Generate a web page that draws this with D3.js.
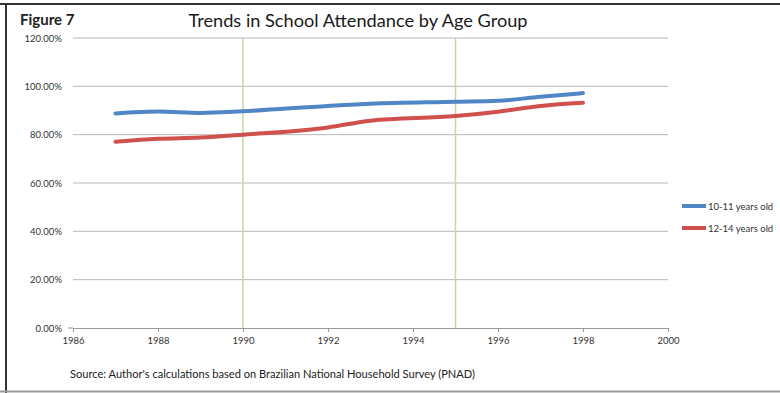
<!DOCTYPE html>
<html>
<head>
<meta charset="utf-8">
<script src="https://cdn.jsdelivr.net/npm/d3@7"></script>
<style>
  html, body { margin: 0; padding: 0; background: #fff; }
  svg { display: block; }
</style>
</head>
<body>
<svg id="chart" width="780" height="393"></svg>
<script>
// School attendance rates (PNAD survey years; no survey in 1991 and 1994)
const years = [1987, 1988, 1989, 1990, 1992, 1993, 1995, 1996, 1997, 1998];
const age10to11 = [0.888, 0.896, 0.890, 0.897, 0.919, 0.928, 0.936, 0.940, 0.957, 0.972];
const age12to14 = [0.771, 0.783, 0.788, 0.800, 0.830, 0.858, 0.877, 0.895, 0.919, 0.932];
const seriesNames = ["10\u201111 years old", "12\u201114 years old"];
const seriesColors = ["#4f86c6", "#d0504d"];
const yTicks = [0, 0.2, 0.4, 0.6, 0.8, 1.0, 1.2];
const xTicks = [1986, 1988, 1990, 1992, 1994, 1996, 1998, 2000];
const markerYears = [1990, 1995];

const svg = d3.select("#chart");
const font = "Lato, 'Open Sans', sans-serif";

// frame
svg.append("line").attr("x1", 0).attr("x2", 780).attr("y1", 4).attr("y2", 4)
  .attr("stroke", "#333").attr("stroke-width", 2);
svg.append("line").attr("x1", 6).attr("x2", 6).attr("y1", 3).attr("y2", 393)
  .attr("stroke", "#333").attr("stroke-width", 2);
svg.append("line").attr("x1", 0).attr("x2", 780).attr("y1", 391.5).attr("y2", 391.5)
  .attr("stroke", "#999").attr("stroke-width", 2);

// headings
svg.append("text").attr("x", 20).attr("y", 25).text("Figure 7")
  .attr("font-family", font).attr("font-weight", "bold").attr("font-size", 15).attr("fill", "#222");
svg.append("text").attr("x", 358).attr("y", 27).attr("text-anchor", "middle")
  .text("Trends in School Attendance by Age Group")
  .attr("font-family", font).attr("font-size", 18.2).attr("fill", "#1a1a1a");

const x = d3.scaleLinear().domain([1986, 2000]).range([73, 668]);
const y = d3.scaleLinear().domain([0, 1.2]).range([328, 38]);

// horizontal gridlines
svg.append("g").selectAll("line").data(yTicks.filter(d => d > 0)).join("line")
  .attr("x1", x(1986)).attr("x2", x(2000))
  .attr("y1", d => y(d)).attr("y2", d => y(d))
  .attr("stroke", "#b8b8b8").attr("stroke-width", 1);

// y axis labels
svg.append("g").selectAll("text").data(yTicks).join("text")
  .attr("x", 62).attr("y", d => y(d) + 3.5).attr("text-anchor", "end")
  .text(d => d3.format(".2%")(d))
  .attr("font-family", font).attr("font-size", 9.5).attr("fill", "#333");
svg.append("line").attr("x1", 68).attr("x2", x(1986)).attr("y1", y(0)).attr("y2", y(0))
  .attr("stroke", "#999");

// x axis
const xAxis = d3.axisBottom(x).tickValues(xTicks).tickFormat(d3.format("d")).tickSize(4).tickSizeOuter(0);
const gx = svg.append("g").attr("transform", `translate(0,${y(0)})`).call(xAxis);
gx.select(".domain").attr("stroke", "#999");
gx.selectAll(".tick line").attr("stroke", "#999");
gx.selectAll(".tick text").attr("font-family", font).attr("font-size", 9.5).attr("fill", "#333").attr("dy", "0.9em");

// reference years
svg.append("g").selectAll("line").data(markerYears).join("line")
  .attr("x1", d => x(d)).attr("x2", d => x(d))
  .attr("y1", y(1.2)).attr("y2", y(0))
  .attr("stroke", "#c5d89e").attr("stroke-width", 1.5);

// series
const line = d3.line().curve(d3.curveMonotoneX).x(d => x(d[0])).y(d => y(d[1]));
[age10to11, age12to14].forEach((vals, i) => {
  svg.append("path")
    .datum(years.map((yr, j) => [yr, vals[j]]))
    .attr("d", line).attr("fill", "none")
    .attr("stroke", seriesColors[i]).attr("stroke-width", 4)
    .attr("stroke-linecap", "round").attr("stroke-linejoin", "round");
});

// legend
const lg = svg.append("g").selectAll("g").data(seriesNames).join("g")
  .attr("transform", (d, i) => `translate(682,${206 + i * 22})`);
lg.append("line").attr("x1", 0).attr("x2", 24).attr("y1", 0).attr("y2", 0)
  .attr("stroke", (d, i) => seriesColors[i]).attr("stroke-width", 4);
lg.append("text").attr("x", 26).attr("y", 3.5).text(d => d)
  .attr("font-family", font).attr("font-size", 9.5).attr("fill", "#333");

// source note
svg.append("text").attr("x", 70).attr("y", 378)
  .text("Source: Author's calculations based on Brazilian National Household Survey  (PNAD)")
  .attr("font-family", font).attr("font-size", 11).attr("fill", "#222")
  .attr("textLength", 405).attr("lengthAdjust", "spacingAndGlyphs");
</script>
</body>
</html>
